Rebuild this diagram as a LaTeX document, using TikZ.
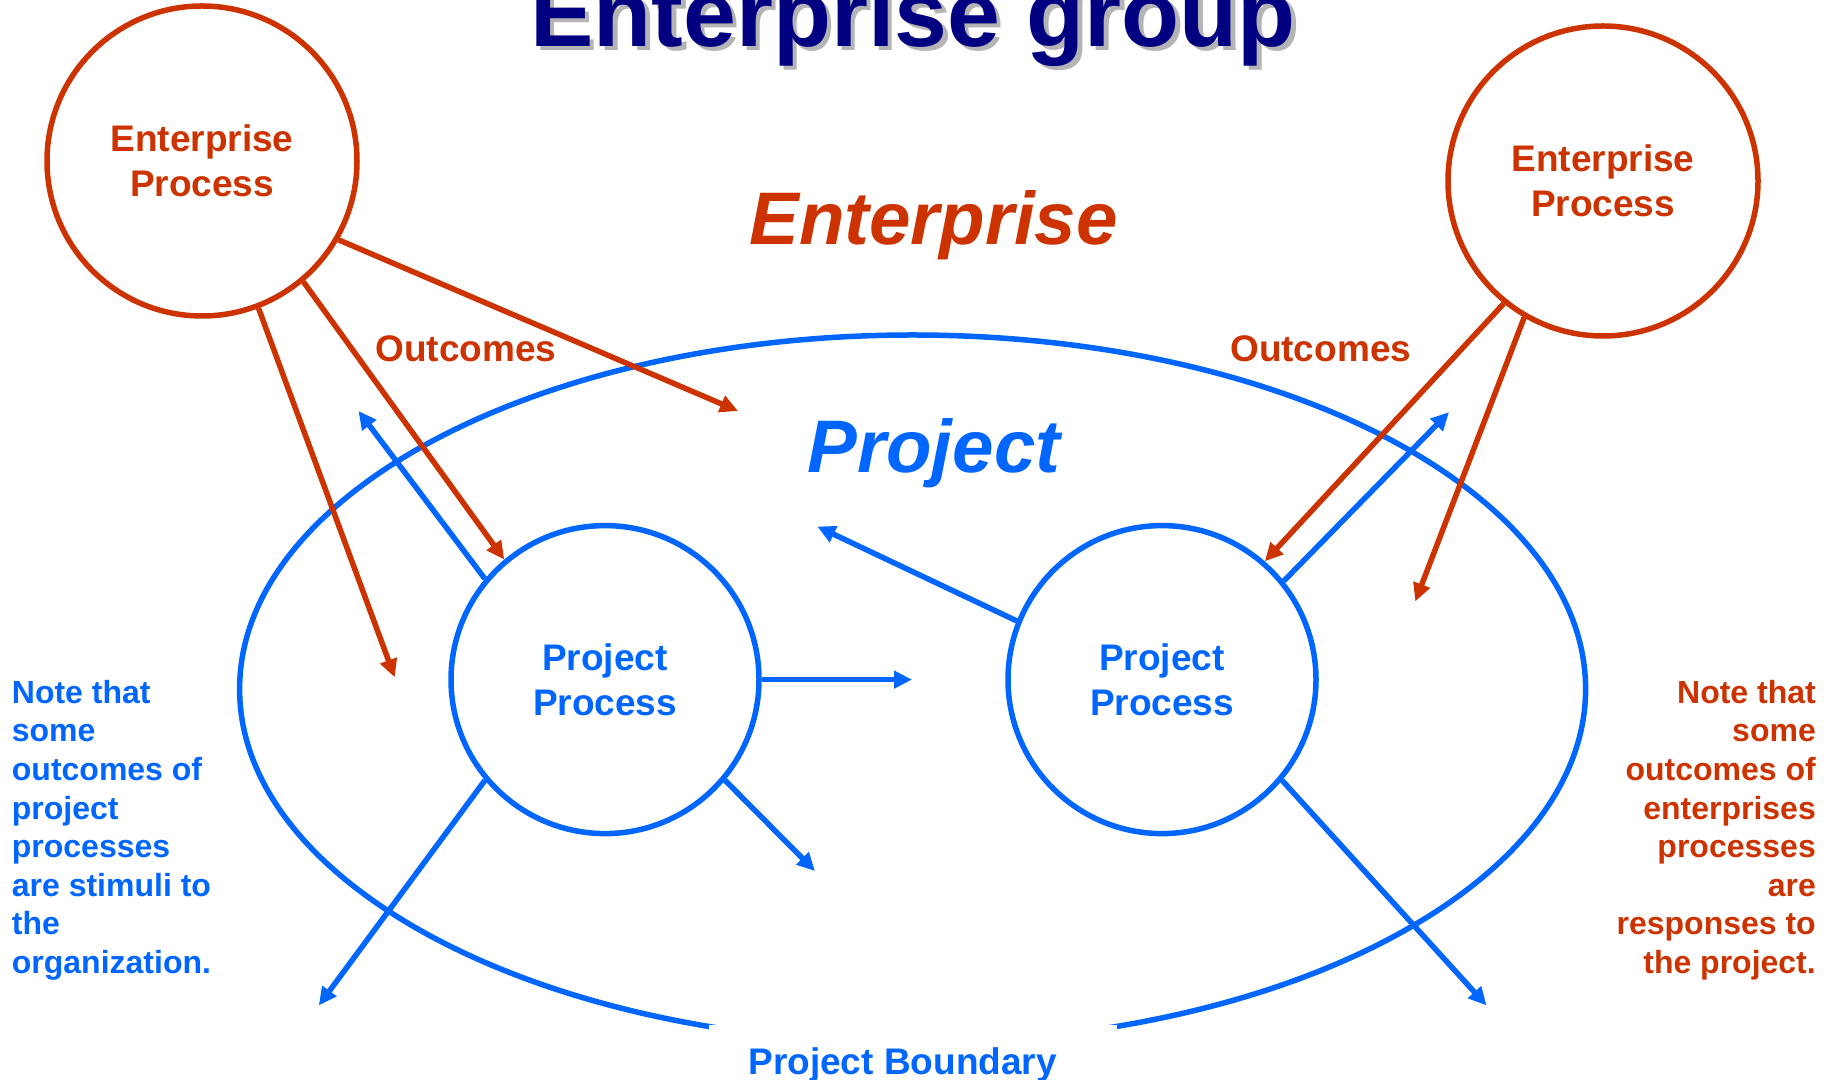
\documentclass[tikz,border=0pt]{standalone}
\usepackage{fontspec}
\setmainfont{Liberation Sans}
\usetikzlibrary{arrows.meta}
\definecolor{entred}{HTML}{CC3300}
\definecolor{projblue}{HTML}{0066FF}
\definecolor{titleblue}{HTML}{000080}
\definecolor{shade}{HTML}{B4B4B4}

\begin{document}
\begin{tikzpicture}[x=1pt,y=1pt,
  eproc/.style={circle,draw=entred,line width=5.5pt,minimum size=310pt,inner sep=0pt,
    text=entred,align=center,font=\fontsize{37}{44.6}\selectfont\bfseries},
  pproc/.style={eproc,draw=projblue,text=projblue,minimum size=308pt},
  eout/.style={entred,line width=5.5pt,-{Triangle[length=18pt,width=17pt]}},
  pout/.style={eout,projblue},
  label/.style={font=\fontsize{37}{44.6}\selectfont\bfseries,anchor=base},
  big/.style={font=\fontsize{74.5}{80}\selectfont\bfseries\itshape,anchor=base},
  note/.style={font=\fontsize{32}{38.6}\selectfont\bfseries,inner sep=0pt}]
  \useasboundingbox (0,0) rectangle (1831,1079);

  \node[text=shade,font=\fontsize{95}{100}\selectfont\bfseries,anchor=base] (T0) at (917.5,1028) {Enterprise group};
  \node[text=titleblue,font=\fontsize{95}{100}\selectfont\bfseries,anchor=base] (T) at (913,1032) {Enterprise group};

  \draw[projblue,line width=5.5pt] (912.6,390) ellipse [x radius=673,y radius=354];
  \fill[white] (709,54) rectangle (1117,-5);
  \node[label,text=projblue] (PB) at (902.6,5) {Project Boundary};

  \node[eproc] (EP1) at (202,918) {Enterprise\\Process};
  \node[eproc] (EP2) at (1603,898) {Enterprise\\Process};
  \node[pproc] (PP1) at (605,399.4) {Project\\Process};
  \node[pproc] (PP2) at (1162,399.4) {Project\\Process};

  \node[big,text=entred] (E) at (933.6,834) {Enterprise};
  \node[big,text=projblue] (P) at (934,606) {Project};
  \node[label,text=entred] (O1) at (466,717) {Outcomes};
  \node[label,text=entred] (O2) at (1320.7,717) {Outcomes};

  \node[note,text=projblue,align=left,anchor=north west] (N1) at (11.7,399)
    {Note that\\some\\outcomes of\\project\\processes\\are stimuli to\\the\\organization.};
  \node[note,text=entred,align=right,anchor=north east] (N2) at (1816,399)
    {Note that\\some\\outcomes of\\enterprises\\processes\\are\\responses to\\the project.};

  \coordinate (a1) at (738,668);
  \coordinate (a2) at (394.7,401.7);
  \coordinate (a3) at (1415.3,477.6);
  \coordinate (b1) at (358.5,668);
  \coordinate (b2) at (912,399.4);
  \coordinate (b3) at (815,208);
  \coordinate (b4) at (318.8,73.6);
  \coordinate (b5) at (817.4,552.4);
  \coordinate (b6) at (1449,666.8);
  \coordinate (b7) at (1486.5,73.6);

  \path[eout] (EP1.-30)  edge (a1)
              (EP1.-50)  edge (PP1.130)
              (EP1.-69)  edge (a2)
              (EP2.-129) edge (PP2.49)
              (EP2.-120) edge (a3);
  \path[pout] (PP1.140)  edge (b1)
              (PP1.east) edge (b2)
              (PP1.-40)  edge (b3)
              (PP1.220)  edge (b4)
              (PP2.158)  edge (b5)
              (PP2.39)   edge (b6)
              (PP2.-40)  edge (b7);
\end{tikzpicture}
\end{document}
